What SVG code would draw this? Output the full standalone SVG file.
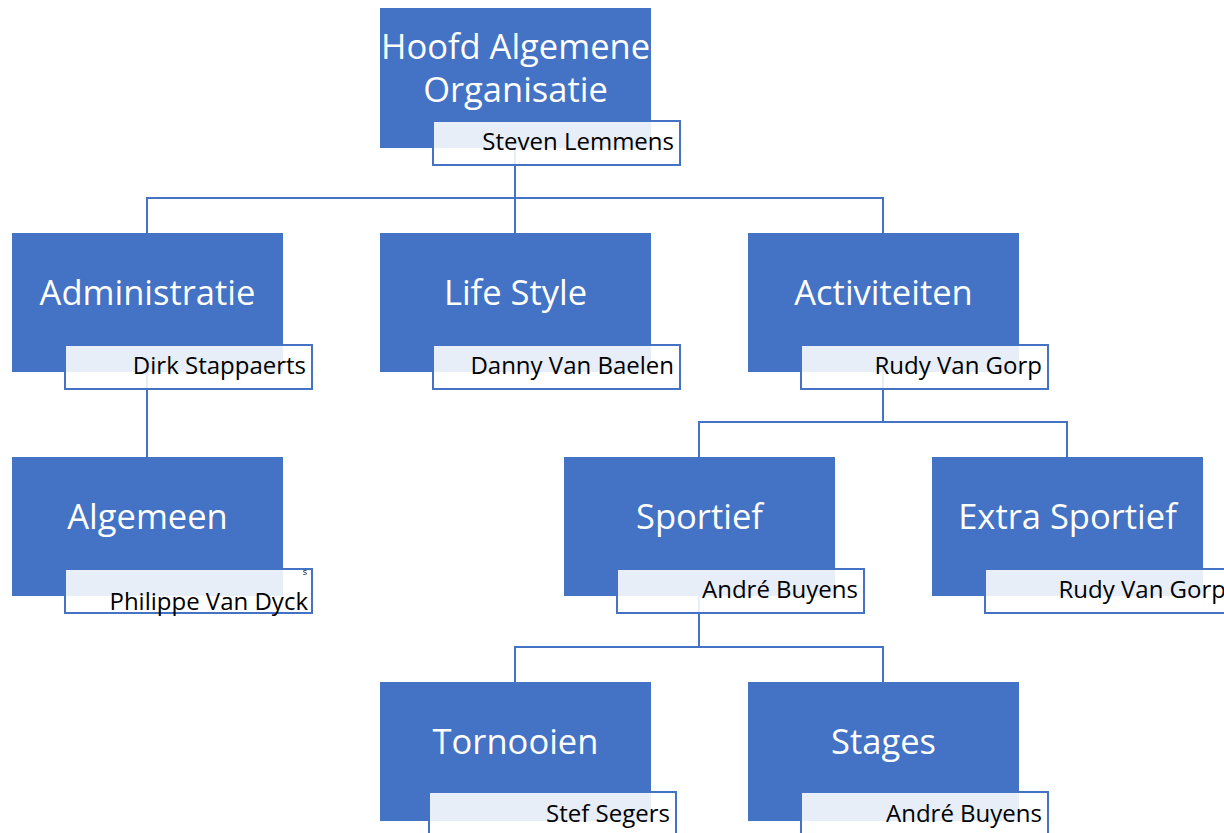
<svg xmlns="http://www.w3.org/2000/svg" width="1224" height="833" viewBox="0 0 1224 833">
<style>
.box{fill:#4472C4;}
.sub{fill:#ffffff;fill-opacity:0.88;stroke:#4472C4;stroke-width:2;}
.t{font-family:"Open Sans","Noto Sans",sans-serif;font-size:34.5px;fill:#ffffff;text-anchor:middle;}
.n{font-family:"Open Sans","Noto Sans",sans-serif;font-size:24px;fill:#000000;text-anchor:end;}
.s{font-family:"Open Sans","Noto Sans",sans-serif;font-size:9px;fill:#000000;text-anchor:end;}
.c{fill:none;stroke:#4472C4;stroke-width:2;}
</style>
<rect width="1224" height="833" fill="#ffffff"/>
<g id="connectors">
<path class="c" d="M515 148 V198 M147 233 V198 H883 V233 M515 198 V233"/>
<path class="c" d="M147 372 V457"/>
<path class="c" d="M883 372 V422 M699 457 V422 H1067 V457"/>
<path class="c" d="M699 596 V647 M515 682 V647 H883 V682"/>
</g>
<g id="hoofd">
<rect class="box" x="380" y="8" width="271" height="140"/>
<text class="t" x="515.5" y="59">Hoofd Algemene</text>
<text class="t" x="515.5" y="102">Organisatie</text>
<rect class="sub" x="433" y="121" width="247" height="44"/>
<text class="n" x="674" y="150">Steven Lemmens</text>
</g>
<g id="administratie">
<rect class="box" x="12" y="233" width="271" height="139"/>
<text class="t" x="147.5" y="305">Administratie</text>
<rect class="sub" x="65" y="345" width="247" height="44"/>
<text class="n" x="306" y="374">Dirk Stappaerts</text>
</g>
<g id="lifestyle">
<rect class="box" x="380" y="233" width="271" height="139"/>
<text class="t" x="515.5" y="305">Life Style</text>
<rect class="sub" x="433" y="345" width="247" height="44"/>
<text class="n" x="674" y="374">Danny Van Baelen</text>
</g>
<g id="activiteiten">
<rect class="box" x="748" y="233" width="271" height="139"/>
<text class="t" x="883.5" y="305">Activiteiten</text>
<rect class="sub" x="801" y="345" width="247" height="44"/>
<text class="n" x="1042" y="374">Rudy Van Gorp</text>
</g>
<g id="algemeen">
<rect class="box" x="12" y="457" width="271" height="139"/>
<text class="t" x="147.5" y="529">Algemeen</text>
<rect class="sub" x="65" y="569" width="247" height="44"/>
<text class="s" x="307" y="575">s</text>
<text class="n" x="308" y="610">Philippe Van Dyck</text>
</g>
<g id="sportief">
<rect class="box" x="564" y="457" width="271" height="139"/>
<text class="t" x="699.5" y="529">Sportief</text>
<rect class="sub" x="617" y="569" width="247" height="44"/>
<text class="n" x="858" y="598">André Buyens</text>
</g>
<g id="extrasportief">
<rect class="box" x="932" y="457" width="271" height="139"/>
<text class="t" x="1067.5" y="529">Extra Sportief</text>
<rect class="sub" x="985" y="569" width="247" height="44"/>
<text class="n" x="1226" y="598">Rudy Van Gorp</text>
</g>
<g id="tornooien">
<rect class="box" x="380" y="682" width="271" height="139"/>
<text class="t" x="515.5" y="754">Tornooien</text>
<rect class="sub" x="429" y="792" width="247" height="44"/>
<text class="n" x="670" y="822">Stef Segers</text>
</g>
<g id="stages">
<rect class="box" x="748" y="682" width="271" height="139"/>
<text class="t" x="883.5" y="754">Stages</text>
<rect class="sub" x="801" y="792" width="247" height="44"/>
<text class="n" x="1042" y="822">André Buyens</text>
</g>
</svg>
